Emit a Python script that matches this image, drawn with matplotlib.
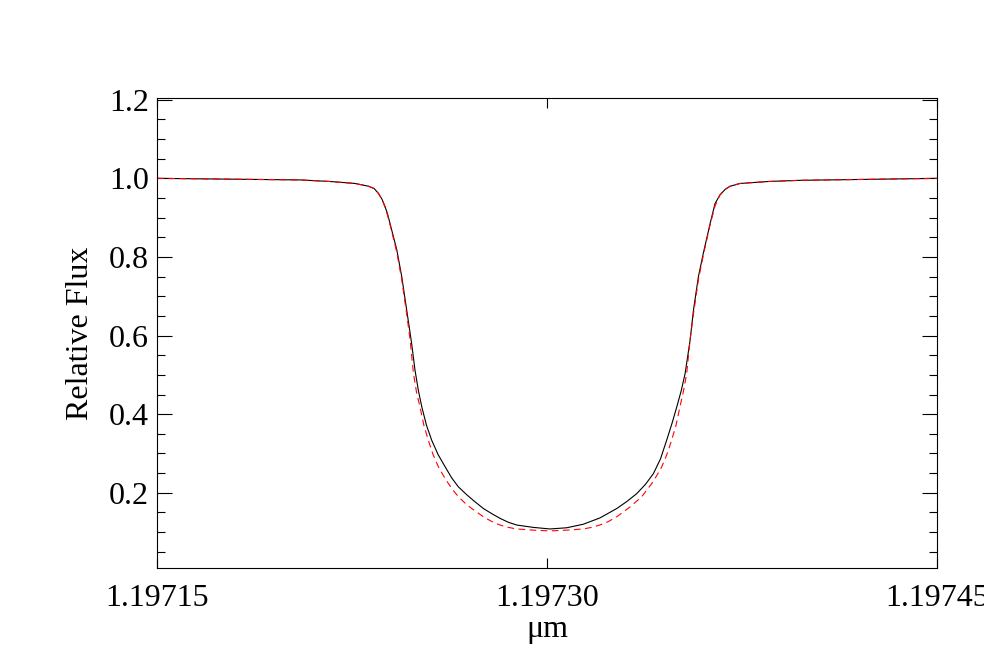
import matplotlib
matplotlib.use("Agg")
import matplotlib.pyplot as plt
from matplotlib.ticker import MultipleLocator

# wavelength (micron) and relative flux
wave_model = [1.1971500, 1.1972049, 1.1972165, 1.1972260, 1.1972312, 1.1972334,
              1.1972350, 1.1972364, 1.1972376, 1.1972386, 1.1972395, 1.1972421,
              1.1972440, 1.1972459, 1.1972478, 1.1972491, 1.1972504, 1.1972517,
              1.1972535, 1.1972555, 1.1972580, 1.1972607, 1.1972632, 1.1972658,
              1.1972690, 1.1972722, 1.1972754, 1.1972786, 1.1972818, 1.1972850,
              1.1972882, 1.1972946, 1.1973010, 1.1973074, 1.1973138, 1.1973202,
              1.1973267, 1.1973306, 1.1973344, 1.1973378, 1.1973408, 1.1973435,
              1.1973459, 1.1973480, 1.1973498, 1.1973515, 1.1973530, 1.1973549,
              1.1973562, 1.1973581, 1.1973600, 1.1973626, 1.1973645, 1.1973664,
              1.1973684, 1.1973703, 1.1973741, 1.1973850, 1.1973972, 1.1974500]
flux_model = [1.000, 0.996, 0.992, 0.987, 0.980, 0.974,
              0.962, 0.947, 0.928, 0.908, 0.885, 0.818,
              0.750, 0.665, 0.580, 0.512, 0.460, 0.419,
              0.372, 0.334, 0.297, 0.266, 0.238, 0.215,
              0.195, 0.177, 0.160, 0.147, 0.135, 0.125,
              0.118, 0.112, 0.108, 0.111, 0.120, 0.136,
              0.160, 0.178, 0.198, 0.222, 0.249, 0.286,
              0.334, 0.378, 0.419, 0.460, 0.504, 0.588,
              0.665, 0.750, 0.810, 0.885, 0.936, 0.958,
              0.972, 0.980, 0.987, 0.992, 0.995, 1.000]

wave_ref = [1.1971500, 1.1972049, 1.1972165, 1.1972260, 1.1972312, 1.1972334,
            1.1972350, 1.1972364, 1.1972376, 1.1972386, 1.1972395, 1.1972421,
            1.1972440, 1.1972459, 1.1972472, 1.1972485, 1.1972497, 1.1972510,
            1.1972525, 1.1972542, 1.1972560, 1.1972581, 1.1972600, 1.1972619,
            1.1972638, 1.1972658, 1.1972683, 1.1972709, 1.1972754, 1.1972786,
            1.1972818, 1.1972850, 1.1972882, 1.1972946, 1.1973010, 1.1973074,
            1.1973138, 1.1973170, 1.1973202, 1.1973235, 1.1973267, 1.1973318,
            1.1973363, 1.1973402, 1.1973421, 1.1973440, 1.1973460, 1.1973478,
            1.1973495, 1.1973510, 1.1973524, 1.1973536, 1.1973549, 1.1973562,
            1.1973581, 1.1973600, 1.1973626, 1.1973645, 1.1973664, 1.1973684,
            1.1973703, 1.1973741, 1.1973850, 1.1973972, 1.1974500]
flux_ref = [1.000, 0.996, 0.992, 0.987, 0.980, 0.974,
            0.962, 0.946, 0.926, 0.905, 0.882, 0.812,
            0.742, 0.655, 0.590, 0.504, 0.455, 0.419,
            0.372, 0.334, 0.298, 0.266, 0.244, 0.224,
            0.206, 0.190, 0.174, 0.160, 0.139, 0.127,
            0.118, 0.112, 0.108, 0.105, 0.103, 0.105,
            0.108, 0.112, 0.118, 0.127, 0.139, 0.164,
            0.190, 0.224, 0.244, 0.266, 0.298, 0.334,
            0.372, 0.419, 0.460, 0.504, 0.590, 0.655,
            0.742, 0.805, 0.882, 0.930, 0.958, 0.972,
            0.980, 0.987, 0.992, 0.995, 1.000]

xticks = [1.19715, 1.19730, 1.19745]
xtick_labels = ["1.19715", "1.19730", "1.19745"]
yticks = [0.2, 0.4, 0.6, 0.8, 1.0, 1.2]
ytick_labels = ["0.2", "0.4", "0.6", "0.8", "1.0", "1.2"]

plt.rcParams["font.family"] = ["Liberation Serif", "DejaVu Serif"]

fig = plt.figure(figsize=(9.84, 6.68), dpi=100)
ax = fig.add_axes([0.1599, 0.1493, 0.7927, 0.7035])

ax.plot(wave_model, flux_model, color="black", lw=0.8)
ax.plot(wave_ref, flux_ref, color="red", lw=0.8, linestyle=(0, (6, 4)))

ax.set_xlim(1.19715, 1.19745)
ax.set_ylim(0.008, 1.2036)

ax.set_xticks(xticks)
ax.set_xticklabels(xtick_labels)
ax.set_yticks(yticks)
ax.set_yticklabels(ytick_labels)
ax.yaxis.set_minor_locator(MultipleLocator(0.05))

ax.tick_params(axis="y", which="major", direction="in", length=10.8, width=0.8,
               left=True, right=True, labelsize=23, pad=6)
ax.tick_params(axis="y", which="minor", direction="in", length=5.5, width=0.8,
               left=True, right=True)
ax.tick_params(axis="x", which="major", direction="in", length=7, width=0.8,
               bottom=True, top=True, labelsize=23, pad=11)

for sp in ax.spines.values():
    sp.set_linewidth(0.8)

ax.set_xlabel("\u03bcm", fontsize=23, labelpad=2)
ax.set_ylabel("Relative Flux", fontsize=23, labelpad=10)

fig.savefig("out.png", dpi=100)
